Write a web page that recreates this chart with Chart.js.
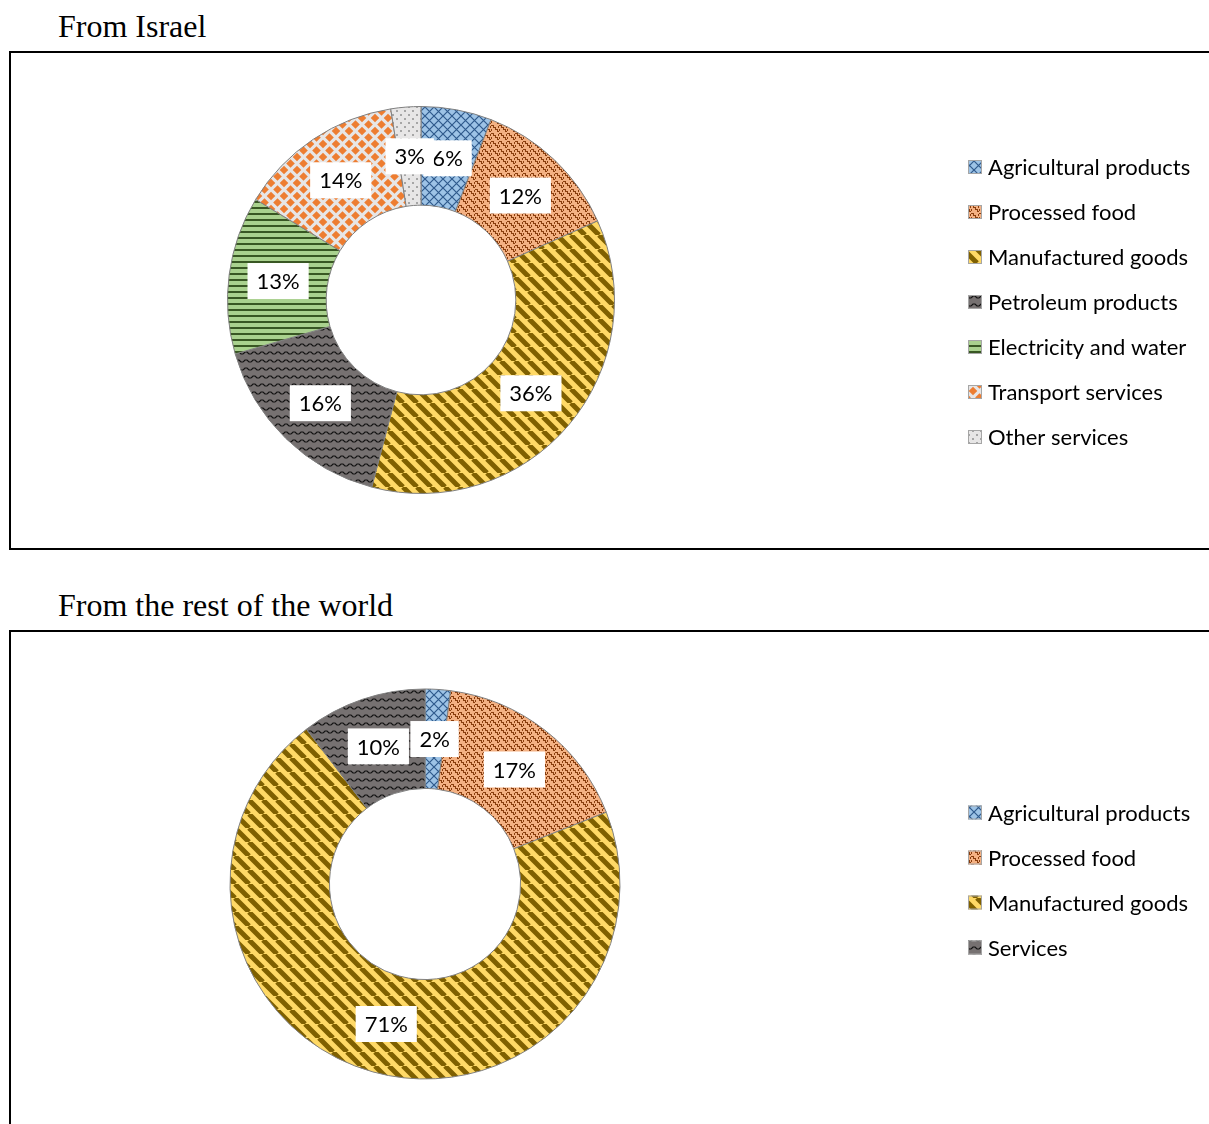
<!DOCTYPE html>
<html>
<head>
<meta charset="utf-8">
<script src="https://cdn.jsdelivr.net/npm/chart.js@4.4.1/dist/chart.umd.min.js"></script>
<style>
  html, body { margin: 0; padding: 0; background: #fff; width: 1209px; height: 1124px; overflow: hidden; }
  .title { position: absolute; left: 58px; font-family: "Liberation Serif", "Times New Roman", serif; font-size: 32px; line-height: 32px; color: #000; white-space: nowrap; }
  .box { position: absolute; left: 9px; width: 1230px; border: 2px solid #000; }
  .box canvas { position: absolute; left: 0; top: 0; }
</style>
</head>
<body>
<div class="title" style="top:10px">From Israel</div>
<div class="box" style="top:51px;height:495px"><canvas id="israel" width="1198" height="495"></canvas></div>
<div class="title" style="top:589px">From the rest of the world</div>
<div class="box" style="top:630px;height:520px"><canvas id="world" width="1198" height="492"></canvas></div>

<script>
// Données (parts en %)
const israelLabels = ["Agricultural products", "Processed food", "Manufactured goods",
  "Petroleum products", "Electricity and water", "Transport services", "Other services"];
const israelValues = [5.9, 12.4, 35.8, 16.4, 13.2, 13.8, 2.5];

const worldLabels = ["Agricultural products", "Processed food", "Manufactured goods", "Services"];
const worldValues = [2.1, 16.9, 70.6, 10.4];

const LABEL_FONT = "22px Lato, 'Open Sans', sans-serif";

// Motifs (hachures façon Excel)
function tile(size, bg, paint) {
  const c = document.createElement("canvas");
  c.width = size;
  c.height = size;
  const g = c.getContext("2d");
  g.fillStyle = bg;
  g.fillRect(0, 0, size, size);
  paint(g, size);
  return g.createPattern(c, "repeat");
}

function diamond(g, x, y, r) {
  g.beginPath();
  g.moveTo(x, y - r);
  g.lineTo(x + r, y);
  g.lineTo(x, y + r);
  g.lineTo(x - r, y);
  g.closePath();
  g.fill();
}

function pixels(g, rows) {
  rows.forEach((row, y) => {
    for (let x = 0; x < row.length; x++) {
      if (row[x] === "#") g.fillRect(x, y, 1, 1);
    }
  });
}

const agriPattern = tile(9, "#9dc3e6", (g, s) => {
  g.strokeStyle = "#2f5a8c";
  g.lineWidth = 1.2;
  g.beginPath();
  g.moveTo(0, 0); g.lineTo(s, s);
  g.moveTo(s, 0); g.lineTo(0, s);
  g.stroke();
});

const foodPattern = tile(8, "#f4b183", (g) => {
  g.fillStyle = "#8a3e0e";
  pixels(g, [
    "###.....",
    "..#....#",
    "..###..#",
    "....#...",
    "#...###.",
    "#.....#.",
    "......##",
    "........",
  ]);
});

const goodsPattern = tile(14, "#ffd966", (g, s) => {
  g.strokeStyle = "#7f6000";
  g.lineWidth = 5;
  g.beginPath();
  for (let k = -1; k <= 1; k++) {
    g.moveTo(k * s, 0);
    g.lineTo(k * s + s, s);
  }
  g.stroke();
});

const wavePattern = tile(8, "#767171", (g, s) => {
  g.strokeStyle = "#111";
  g.lineWidth = 1.2;
  g.beginPath();
  g.moveTo(0, 5); g.lineTo(2, 3); g.lineTo(4, 3); g.lineTo(6, 5); g.lineTo(8, 5);
  g.stroke();
});

const linesPattern = tile(6, "#a9d18e", (g, s) => {
  g.fillStyle = "#385723";
  g.fillRect(0, 4, s, 2);
});

const diamondPattern = tile(13, "#e7e6e6", (g, s) => {
  g.fillStyle = "#ed7d31";
  const r = 4.3;
  diamond(g, s / 2, s / 2, r);
  diamond(g, 0, 0, r);
  diamond(g, s, 0, r);
  diamond(g, 0, s, r);
  diamond(g, s, s, r);
});

const dotsPattern = tile(8, "#e7e6e6", (g) => {
  g.fillStyle = "#a6a6a6";
  g.fillRect(1, 1, 2, 2);
  g.fillRect(5, 5, 2, 2);
});

const israelFills = [agriPattern, foodPattern, goodsPattern, wavePattern, linesPattern, diamondPattern, dotsPattern];
const worldFills = [agriPattern, foodPattern, goodsPattern, wavePattern];

// Étiquettes en % dans des cadres blancs
const pctLabels = {
  id: "pctLabels",
  afterDatasetsDraw(chart) {
    const ctx = chart.ctx;
    const data = chart.data.datasets[0].data;
    const total = data.reduce((a, b) => a + b, 0);
    ctx.save();
    ctx.font = LABEL_FONT;
    ctx.textAlign = "center";
    ctx.textBaseline = "middle";
    chart.getDatasetMeta(0).data.forEach((arc, i) => {
      const p = arc.tooltipPosition(true);
      const txt = Math.round((data[i] / total) * 100) + "%";
      const w = ctx.measureText(txt).width + 18;
      const h = 36;
      ctx.fillStyle = "#fff";
      ctx.fillRect(p.x - w / 2, p.y - h / 2, w, h);
      ctx.fillStyle = "#000";
      ctx.fillText(txt, p.x, p.y + 1);
    });
    ctx.restore();
  },
};

// Légende à droite
const sideLegend = {
  id: "sideLegend",
  afterDraw(chart, args, opts) {
    const ctx = chart.ctx;
    const fills = chart.data.datasets[0].backgroundColor;
    const labels = chart.data.labels;
    const cy = (chart.chartArea.top + chart.chartArea.bottom) / 2 + opts.dy;
    const y0 = cy - ((labels.length - 1) * opts.gap) / 2;
    ctx.save();
    ctx.font = LABEL_FONT;
    ctx.textBaseline = "middle";
    labels.forEach((label, i) => {
      const y = y0 + i * opts.gap;
      ctx.fillStyle = fills[i];
      ctx.fillRect(opts.x, y - 7, 14, 14);
      ctx.strokeStyle = "#a6a6a6";
      ctx.lineWidth = 1;
      ctx.strokeRect(opts.x + 0.5, y - 6.5, 13, 13);
      ctx.fillStyle = "#000";
      ctx.fillText(label, opts.x + 20, y + 1);
    });
    ctx.restore();
  },
};

function createDoughnut(id, labels, values, fills, padding, legendDy) {
  const ctx = document.getElementById(id).getContext("2d");
  return new Chart(ctx, {
    type: "doughnut",
    data: {
      labels: labels,
      datasets: [
        {
          data: values,
          backgroundColor: fills,
          borderColor: "#808080",
          borderWidth: 1,
        },
      ],
    },
    options: {
      responsive: false,
      animation: false,
      cutout: "49%",
      layout: { padding: padding },
      plugins: {
        legend: { display: false },
        tooltip: { enabled: false },
        sideLegend: { x: 957, gap: 45, dy: legendDy },
      },
    },
    plugins: [pctLabels, sideLegend],
  });
}

createDoughnut("israel", israelLabels, israelValues, israelFills,
  { left: 216, top: 53, right: 594, bottom: 54 }, 2);
createDoughnut("world", worldLabels, worldValues, worldFills,
  { left: 218.5, top: 56.5, right: 588.5, bottom: 44.5 }, -4);
</script>
</body>
</html>
